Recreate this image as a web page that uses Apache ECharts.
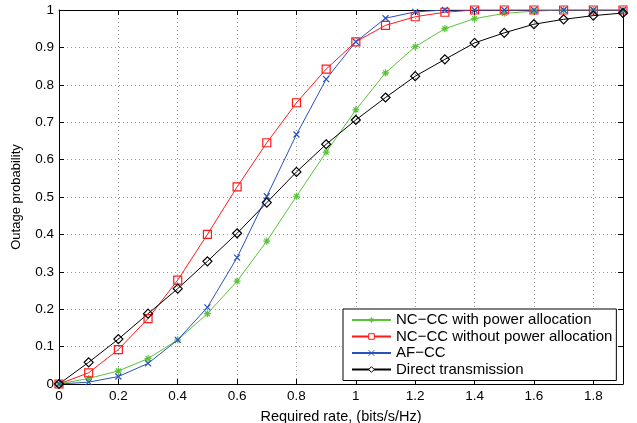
<!DOCTYPE html>
<html>
<head>
<meta charset="utf-8">
<script src="https://cdn.jsdelivr.net/npm/echarts@6/dist/echarts.min.js"></script>
<style>
  html, body { margin: 0; padding: 0; background: #fff; }
  #chart { width: 637px; height: 423px; }
</style>
</head>
<body>
<div id="chart"></div>
<script>
// required rate (bits/s/Hz)
const rates = [0, 0.1, 0.2, 0.3, 0.4, 0.5, 0.6, 0.7, 0.8, 0.9, 1.0, 1.1, 1.2, 1.3, 1.4, 1.5, 1.6, 1.7, 1.8, 1.9];

const ncccPower   = [0, 0.015, 0.035, 0.068, 0.118, 0.188, 0.275, 0.382, 0.502, 0.62, 0.733, 0.832, 0.902, 0.95, 0.977, 0.991, 0.997, 1, 1, 1];
const ncccNoPower = [0, 0.03, 0.092, 0.175, 0.278, 0.4, 0.527, 0.645, 0.752, 0.842, 0.915, 0.959, 0.982, 0.994, 1, 1, 1, 1, 1, 1];
const afcc        = [0, 0.005, 0.02, 0.055, 0.118, 0.205, 0.338, 0.502, 0.667, 0.815, 0.915, 0.978, 0.995, 1, 1, 1, 1, 1, 1, 1];
const direct      = [0, 0.058, 0.12, 0.188, 0.255, 0.328, 0.403, 0.485, 0.567, 0.641, 0.706, 0.766, 0.823, 0.868, 0.912, 0.939, 0.962, 0.975, 0.985, 0.992];

const names = ['NC\u2212CC with power allocation', 'NC\u2212CC without power allocation', 'AF\u2212CC', 'Direct transmission'];

const FONT = '"Liberation Sans", Arial, sans-serif';

function pairs(ys) {
    return rates.map((x, i) => [x, ys[i]]);
}

const starPath = 'path://M5,0L5,10M0,5L10,5M1.5,1.5L8.5,8.5M8.5,1.5L1.5,8.5';
const crossPath = 'path://M0,0L10,10M10,0L0,10';

function mkSeries(name, ys, color, symbol, size) {
    return {
        name: name,
        type: 'line',
        data: pairs(ys),
        symbol: symbol,
        symbolSize: size,
        showAllSymbol: true,
        lineStyle: { color: color, width: 1 },
        itemStyle: { color: 'rgba(255,255,255,0)', borderColor: color, borderWidth: 1.2 },
        emphasis: { disabled: true },
        animation: false,
        z: 3
    };
}

const chart = echarts.init(document.getElementById('chart'));

const option = {
    animation: false,
    backgroundColor: '#fff',
    grid: { left: 59, right: 14, top: 10, bottom: 39, show: false, outerBoundsMode: 'none' },
    legend: {
        orient: 'vertical',
        left: 343,
        top: 309,
        padding: [3, 4, 3, 8],
        itemWidth: 39,
        itemHeight: 7,
        itemGap: 0.5,
        backgroundColor: '#fff',
        borderColor: '#000',
        borderWidth: 1,
        itemStyle: { color: '#fff', borderWidth: 1 },
        textStyle: { fontFamily: FONT, fontSize: 15, lineHeight: 16, color: '#000' },
        data: names
    },
    xAxis: [{
        type: 'value',
        min: 0, max: 1.9, interval: 0.2,
        name: 'Required rate, (bits/s/Hz)',
        nameLocation: 'middle',
        nameGap: 25,
        nameTextStyle: { fontFamily: FONT, fontSize: 14.5, color: '#000' },
        axisLine: { onZero: false, lineStyle: { color: '#000', width: 1 } },
        axisTick: { inside: true, length: 5, lineStyle: { color: '#000' } },
        axisLabel: { fontFamily: FONT, fontSize: 13.5, color: '#000', margin: 5, showMaxLabel: false },
        splitLine: { show: true, lineStyle: { color: '#999', type: [1, 3], width: 1 } }
    }, {
        type: 'value',
        position: 'top',
        min: 0, max: 1.9, interval: 0.2,
        axisLine: { onZero: false, lineStyle: { color: '#000', width: 1 } },
        axisTick: { inside: true, length: 5, lineStyle: { color: '#000' } },
        axisLabel: { show: false },
        splitLine: { show: false }
    }],
    yAxis: [{
        type: 'value',
        min: 0, max: 1, interval: 0.1,
        name: 'Outage probability',
        nameLocation: 'middle',
        nameGap: 36,
        nameTextStyle: { fontFamily: FONT, fontSize: 13, color: '#000' },
        axisLine: { show: true, onZero: false, lineStyle: { color: '#000', width: 1 } },
        axisTick: { show: true, inside: true, length: 5, lineStyle: { color: '#000' } },
        axisLabel: { fontFamily: FONT, fontSize: 13.5, color: '#000', margin: 5 },
        splitLine: { show: true, lineStyle: { color: '#999', type: [1, 3], width: 1 } }
    }, {
        type: 'value',
        position: 'right',
        min: 0, max: 1, interval: 0.1,
        axisLine: { show: true, onZero: false, lineStyle: { color: '#000', width: 1 } },
        axisTick: { show: true, inside: true, length: 5, lineStyle: { color: '#000' } },
        axisLabel: { show: false },
        splitLine: { show: false }
    }],
    series: [
        mkSeries(names[0], ncccPower, '#5bc23c', starPath, 7),
        mkSeries(names[1], ncccNoPower, '#ff1a1a', 'rect', 8),
        mkSeries(names[2], afcc, '#2a52be', crossPath, 6),
        mkSeries(names[3], direct, '#000', 'diamond', 9)
    ]
};

chart.setOption(option);
</script>
</body>
</html>
